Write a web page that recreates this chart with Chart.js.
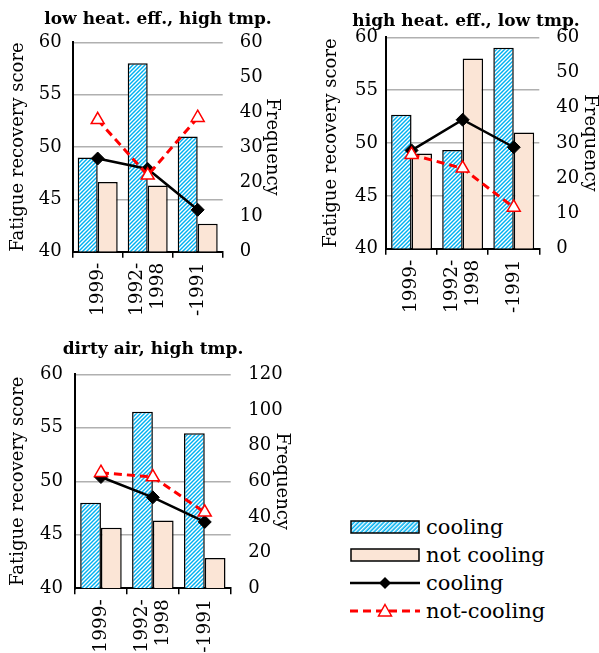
<!DOCTYPE html>
<html>
<head>
<meta charset="utf-8">
<script src="https://cdn.jsdelivr.net/npm/chart.js"></script>
<style>
  html, body { margin: 0; padding: 0; background: #fff; overflow: hidden; }
  body { width: 599px; height: 653px; position: relative; }
  canvas { position: absolute; }
  #legend { position: absolute; left: 350px; top: 513px; font-family: "DejaVu Serif", serif; font-size: 21px; color: #000; }
  #legend .row { height: 28px; display: flex; align-items: center; }
  #legend svg { margin-right: 6px; }
</style>
</head>
<body>
<canvas id="c1" width="316" height="320" style="left:0px;top:0px"></canvas>
<canvas id="c2" width="332" height="320" style="left:300px;top:0px"></canvas>
<canvas id="c3" width="306" height="333" style="left:0px;top:320px"></canvas>
<div id="legend">
  <div class="row"><svg width="70" height="16"><defs><pattern id="st" width="3" height="3" patternUnits="userSpaceOnUse" patternTransform="rotate(45)"><rect width="3" height="3" fill="#00b0f0"/><rect width="1.4" height="3" fill="#fff"/></pattern></defs><rect x="1" y="2" width="68" height="12" fill="url(#st)" stroke="#000" stroke-width="1.5"/></svg>cooling</div>
  <div class="row"><svg width="70" height="16"><rect x="1" y="2" width="68" height="12" fill="#fbe5d6" stroke="#000" stroke-width="1.5"/></svg>not cooling</div>
  <div class="row"><svg width="70" height="16"><line x1="0" y1="8" x2="70" y2="8" stroke="#000" stroke-width="2.5"/><polygon points="35,2 41,8 35,14 29,8" fill="#000"/></svg>cooling</div>
  <div class="row"><svg width="70" height="16"><line x1="0" y1="8" x2="70" y2="8" stroke="#f00" stroke-width="3" stroke-dasharray="8,5"/><polygon points="35,1.5 41.5,13 28.5,13" fill="#fff" stroke="#f00" stroke-width="1.5"/></svg>not-cooling</div>
</div>
<script>
// categories (leading empty line keeps the one-line labels centred on their category)
var periods = [['', '1999-'], ['1992-', '1998'], ['', '-1991']];
var panelTitles = ['low heat. eff., high tmp.', 'high heat. eff., low tmp.', 'dirty air, high tmp.'];

// frequency axis ranges (right axis)
var freqMax = [60, 60, 120];
var freqStep = [10, 10, 20];

// panel 1: low heat. eff., high tmp.
var freqCooling1 = [27, 54, 33];
var freqNotCooling1 = [20, 19, 8];
var scoreCooling1 = [48.9, 47.9, 44.0];
var scoreNotCooling1 = [52.6, 47.3, 52.8];

// panel 2: high heat. eff., low tmp.
var freqCooling2 = [38, 28, 57];
var freqNotCooling2 = [27, 54, 33];
var scoreCooling2 = [49.3, 52.2, 49.6];
var scoreNotCooling2 = [48.9, 47.6, 43.9];

// panel 3: dirty air, high tmp.
var freqCooling3 = [48, 99, 87];
var freqNotCooling3 = [34, 38, 17];
var scoreCooling3 = [50.4, 48.5, 46.2];
var scoreNotCooling3 = [50.8, 50.4, 47.1];

var FONT = '"DejaVu Serif", serif';

// blue / white diagonal stripes like the excel fill
function stripePattern() {
    var pc = document.createElement('canvas');
    pc.width = 4; pc.height = 4;
    var g = pc.getContext('2d');
    g.fillStyle = '#00b0f0';
    g.fillRect(0, 0, 4, 4);
    g.strokeStyle = '#ffffff';
    g.lineWidth = 1.4;
    g.beginPath();
    g.moveTo(-1, 1); g.lineTo(1, -1);
    g.moveTo(-1, 5); g.lineTo(5, -1);
    g.moveTo(3, 5); g.lineTo(5, 3);
    g.stroke();
    return g.createPattern(pc, 'repeat');
}
var stripes = stripePattern();

// x labels: two-line label spaced 21px, one-line labels pushed back by half of that
function xTickFont(c) {
    var lab = periods[c.index];
    var lh = lab[0] === '' ? 10.5 : 21;
    return { family: FONT, size: 18.5, lineHeight: lh + 'px' };
}

function makePanel(id, title, fc, fn, sc, sn, fMax, fStep, lay) {
    var ctx = document.getElementById(id).getContext('2d');
    return new Chart(ctx, {
        type: 'bar',
        data: {
            labels: periods,
            datasets: [
                {
                    type: 'line', label: 'not-cooling', data: sn, yAxisID: 'y', order: 0,
                    borderColor: '#ff0000', borderWidth: 3, borderDash: [8, 5],
                    pointStyle: 'triangle', pointRadius: 7.5, pointBackgroundColor: '#ffffff',
                    pointBorderColor: '#ff0000', pointBorderWidth: 1.5, fill: false, tension: 0
                },
                {
                    type: 'line', label: 'cooling', data: sc, yAxisID: 'y', order: 1,
                    borderColor: '#000000', borderWidth: 2.5,
                    pointStyle: 'rectRot', pointRadius: 6.5, pointBackgroundColor: '#000000',
                    pointBorderColor: '#000000', pointBorderWidth: 1, fill: false, tension: 0
                },
                {
                    label: 'cooling', data: fc, yAxisID: 'y1', order: 2,
                    backgroundColor: stripes, borderColor: '#000', borderWidth: 1.5,
                    barPercentage: 1, categoryPercentage: 0.8
                },
                {
                    label: 'not cooling', data: fn, yAxisID: 'y1', order: 2,
                    backgroundColor: '#fbe5d6', borderColor: '#000', borderWidth: 1.5,
                    barPercentage: 1, categoryPercentage: 0.8
                }
            ]
        },
        options: {
            responsive: false,
            animation: false,
            layout: { padding: 0 },
            plugins: {
                legend: { display: false },
                tooltip: { enabled: false },
                title: {
                    display: true, text: title, color: '#000',
                    font: { family: FONT, size: 17, weight: 'bold', lineHeight: 1.2 },
                    padding: { top: lay.tTop, bottom: lay.tBottom }
                }
            },
            scales: {
                x: {
                    offset: true,
                    grid: { offset: true, drawOnChartArea: false, drawTicks: true, tickLength: 6, color: '#000', lineWidth: 1.5 },
                    border: { color: '#000', width: 2 },
                    ticks: { minRotation: 90, maxRotation: 90, autoSkip: false, padding: 5, labelOffset: -10.5, color: '#000', font: xTickFont },
                    afterFit: function (s) { s.height = lay.bottom; }
                },
                y: {
                    position: 'left', min: 40, max: 60,
                    ticks: { stepSize: 5, padding: lay.lTick, color: '#000', font: { family: FONT, size: 18 } },
                    grid: {
                        drawTicks: false, lineWidth: 1.5,
                        color: function (c) { return c.tick && c.tick.value === 40 ? 'rgba(0,0,0,0)' : '#b0b0b0'; }
                    },
                    border: { color: '#000', width: 2 },
                    title: {
                        display: true, text: 'Fatigue recovery score', color: '#000',
                        font: { family: FONT, size: 18, lineHeight: 1 }, padding: { top: lay.lTitle, bottom: 0 }
                    },
                    afterFit: function (s) { s.width = lay.left; }
                },
                y1: {
                    position: 'right', min: 0, max: fMax,
                    ticks: { stepSize: fStep, padding: lay.rTick, color: '#000', font: { family: FONT, size: 18 } },
                    grid: { display: false, drawTicks: false },
                    border: { display: false },
                    title: {
                        display: true, text: 'Frequency', color: '#000',
                        font: { family: FONT, size: 18, lineHeight: 1 }, padding: { top: lay.rTitle, bottom: 0 }
                    },
                    afterFit: function (s) { s.width = lay.right; }
                }
            }
        }
    });
}

makePanel('c1', panelTitles[0], freqCooling1, freqNotCooling1, scoreCooling1, scoreNotCooling1, freqMax[0], freqStep[0],
    { left: 72.7, right: 93.3, bottom: 68.3, tTop: 9.8, tBottom: 12.1, lTitle: 9.3, rTitle: 35.3, lTick: 11, rTick: 17 });
makePanel('c2', panelTitles[1], freqCooling2, freqNotCooling2, scoreCooling2, scoreNotCooling2, freqMax[1], freqStep[1],
    { left: 86, right: 92.7, bottom: 71.3, tTop: 11.5, tBottom: 5.4, lTitle: 22.7, rTitle: 33, lTick: 8, rTick: 17 });
makePanel('c3', panelTitles[2], freqCooling3, freqNotCooling3, scoreCooling3, scoreNotCooling3, freqMax[2], freqStep[2],
    { left: 75, right: 75.3, bottom: 64.7, tTop: 19.8, tBottom: 14.1, lTitle: 9.3, rTitle: 15.3, lTick: 12, rTick: 17.6 });
</script>
</body>
</html>
